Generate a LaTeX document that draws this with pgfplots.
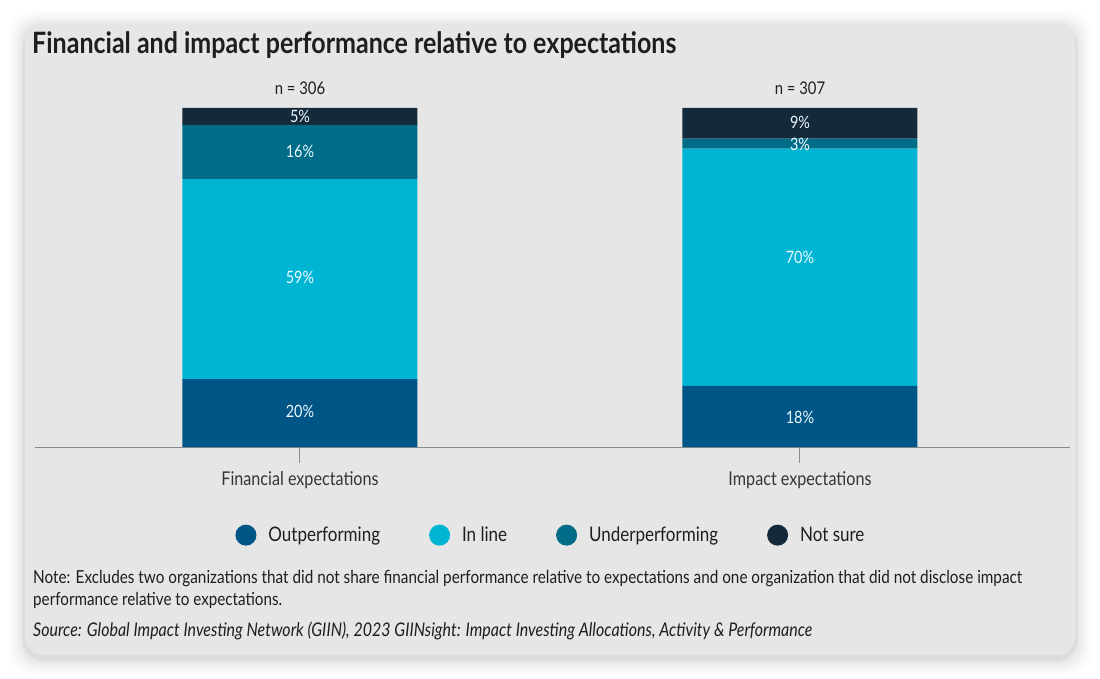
\documentclass[border=0pt]{standalone}
\usepackage{pgfplots}
\pgfplotsset{compat=1.18}
\usepackage{fontspec}
\setmainfont{Lato}[FakeStretch=0.85]
\definecolor{outcol}{HTML}{005587}
\definecolor{inlcol}{HTML}{00B5D3}
\definecolor{undcol}{HTML}{006C87}
\definecolor{notcol}{HTML}{14293A}
\definecolor{panel}{HTML}{E6E6E6}
\definecolor{txt}{HTML}{1E1E1E}
\definecolor{axgray}{HTML}{8C8C8C}
\pgfplotsset{
  commonax/.style={
    at={(35pt,231pt)}, anchor=south west,
    scale only axis, width=1035pt, height=339pt,
    xmin=-0.53, xmax=1.54, ymin=0, ymax=100, clip=false,
  }
}
\begin{document}
\begin{tikzpicture}
\fill[white] (0pt,0pt) rectangle (1100pt,678pt);
\foreach \i/\o in {16/0.012,13/0.016,10/0.02,7/0.025,4/0.03,2/0.04} {
  \fill[black,opacity=\o,rounded corners=22pt] (25pt-\i pt,19pt-\i pt) rectangle (1075pt+\i pt,651pt+\i pt);
}
\fill[panel,rounded corners=18pt] (25pt,23pt) rectangle (1075pt,655pt);
\node[anchor=base west,inner sep=0pt,text=txt] at (32pt,624pt)
  {\resizebox{644pt}{!}{\bfseries Financial and impact performance relative to expectations}};
\begin{axis}[
  commonax,
  ybar stacked, bar width=235pt,
  axis x line*=bottom, axis y line=none,
  axis line style={draw=axgray,line width=1pt},
  xtick={0,1}, xticklabels={Financial expectations,Impact expectations},
  ytick=\empty,
  major tick length=16pt, tick align=outside,
  tick style={draw=axgray,line width=1pt},
  xticklabel style={font=\fontsize{19}{22}\selectfont, text=txt!90, yshift=-5pt},
  legend columns=4,
  legend style={at={(0.4985,-0.26)}, anchor=center, draw=none, fill=none,
     font=\fontsize{20}{23}\selectfont, text=txt,
     /tikz/every even column/.append style={column sep=47pt},
     /tikz/every odd column/.append style={column sep=10pt}},
  legend image code/.code={\fill[#1,draw=none] (0pt,0pt) circle (10.5pt);},
]
\addplot[fill=outcol,draw=none] coordinates {(0,20) (1,18)};
\addlegendentry{Outperforming}
\addplot[fill=inlcol,draw=none] coordinates {(0,59) (1,70)};
\addlegendentry{In line}
\addplot[fill=undcol,draw=none] coordinates {(0,16) (1,3)};
\addlegendentry{Underperforming}
\addplot[fill=notcol,draw=none] coordinates {(0,5) (1,9)};
\addlegendentry{Not sure}
\node[anchor=base,text=txt,font=\fontsize{17.5}{20}\selectfont] at ([yshift=13pt]axis cs:0,100) {n = 306};
\node[anchor=base,text=txt,font=\fontsize{17.5}{20}\selectfont] at ([yshift=13pt]axis cs:1,100) {n = 307};
\end{axis}
\begin{axis}[
  commonax, hide axis,
]
\addplot[draw=none, mark=none, nodes near coords={\pgfplotspointmeta\%},
  point meta=explicit symbolic,
  every node near coord/.append style={anchor=center, text=white!93!cyan,
     font=\fontsize{17}{20}\selectfont}]
  table[meta=lab] {
x y lab
0 10.5 20
0 50 59
0 87.3 16
0 97.6 5
1 8.8 18
1 56 70
1 89.4 3
1 95.6 9
};
\end{axis}
\node[anchor=base west,inner sep=0pt,text=txt] at (33pt,95pt)
  {\resizebox{989pt}{!}{Note: Excludes two organizations that did not share financial performance relative to expectations and one organization that did not disclose impact}};
\node[anchor=base west,inner sep=0pt,text=txt] at (33pt,73pt)
  {\resizebox{249pt}{!}{performance relative to expectations.}};
\node[anchor=base west,inner sep=0pt,text=txt] at (33pt,42pt)
  {\resizebox{779pt}{!}{\itshape Source: Global Impact Investing Network (GIIN), 2023 GIINsight: Impact Investing Allocations, Activity \& Performance}};
\end{tikzpicture}
\end{document}
